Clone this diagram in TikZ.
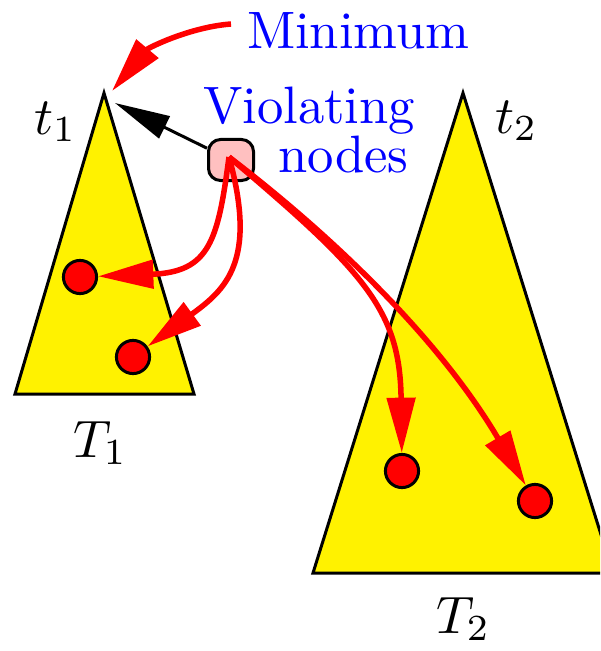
\documentclass[tikz,border=0pt]{standalone}
\usetikzlibrary{arrows.meta}
\definecolor{vpink}{RGB}{255,192,192}
\begin{document}
\begin{tikzpicture}[x=0.19pt,y=-0.19pt,
  tri/.style={draw=black,fill=yellow,line width=0.57pt,line join=miter},
  dot/.style={circle,draw=black,fill=red,line width=0.57pt,minimum size=6.3pt,inner sep=0pt},
  vbox/.style={draw=black,fill=vpink,rounded corners=2.3pt,line width=0.57pt,minimum width=8.55pt,minimum height=7.8pt,inner sep=0pt},
  redarrow/.style={draw=red,line width=1.05pt,-{Triangle[length=10.5pt,width=5.3pt]}},
  blackarrow/.style={draw=black,line width=0.57pt,-{Triangle[length=10.5pt,width=4.6pt]}},
  lbl/.style={inner sep=0pt,anchor=base west},
  bluelbl/.style={lbl,text=blue}]
\useasboundingbox (0,0) rectangle (600,651);
\begin{scope}
\clip (0,0) rectangle (600,651);
\draw[tri] (104,93) -- (15,394) -- (194,394) -- cycle;
\draw[tri] (463,93) -- (313,573) -- (613,573) -- cycle;
\end{scope}
% red dots
\node[dot] (a1) at (80,277) {};
\node[dot] (a2) at (133,357) {};
\node[dot] (b1) at (402,471) {};
\node[dot] (b2) at (535,501) {};
% labels
\node[bluelbl] (mn) at (246,48) {Minimum};
\node[bluelbl] (vl) at (202,123) {Violating};
\node[bluelbl] (nd) at (277,172) {nodes};
\node[lbl] (t1) at (33,134) {$t_1$};
\node[lbl] (t2) at (494,133) {$t_2$};
\node[lbl] (T1) at (72,457) {$T_1$};
\node[lbl] (T2) at (435,633) {$T_2$};
% violating box
\node[vbox] (v) at (231,160) {};
\coordinate (vs) at (229,157);
\coordinate (ms) at (231,24);
\coordinate (mt) at (112,91);
\coordinate (bt) at (115,103);
% arrows
\draw[blackarrow] (v) -- (bt);
\draw[redarrow] (ms) .. controls (190,27) and (148,48) .. (mt);
\draw[redarrow] (vs) .. controls (218,240) and (210,272) .. (a1);
\draw[redarrow] (vs) .. controls (258,262) and (225,290) .. (a2);
\draw[redarrow] (vs) .. controls (365,272) and (400,310) .. (b1);
\draw[redarrow] (vs) .. controls (335,238) and (440,340) .. (b2);
\end{tikzpicture}
\end{document}
